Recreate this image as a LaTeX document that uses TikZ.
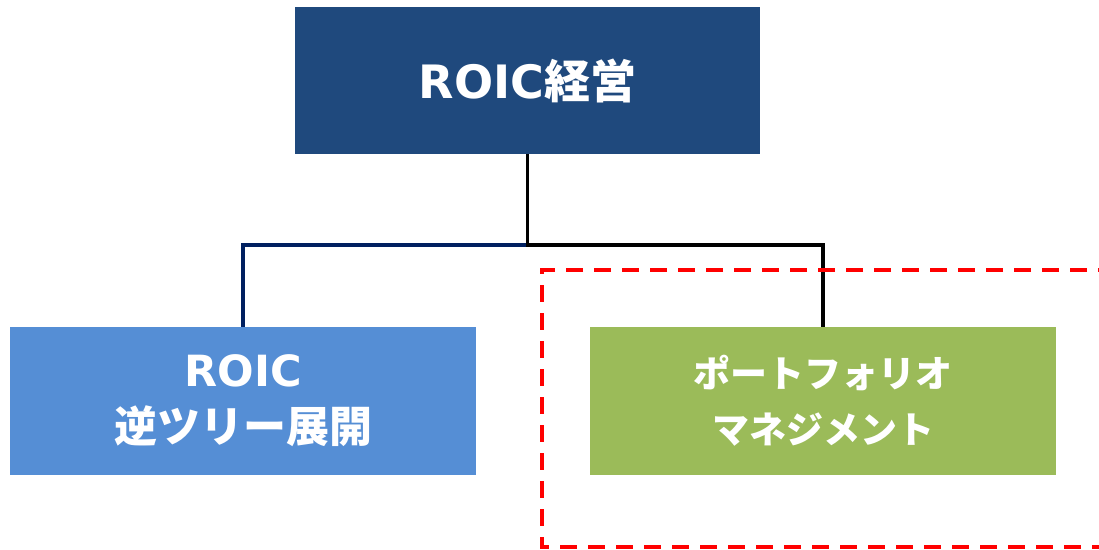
\documentclass[tikz,border=0pt]{standalone}
\usepackage{fontspec}
\newfontfamily\jp{Noto Sans CJK JP}
\newfontfamily\lat{DejaVu Sans}
\definecolor{topblue}{RGB}{31,73,125}
\definecolor{leftblue}{RGB}{85,142,213}
\definecolor{rightgreen}{RGB}{155,187,89}
\definecolor{navy}{RGB}{0,32,96}
\begin{document}
\begin{tikzpicture}[x=1pt,y=-1pt,
  box/.style={rectangle,inner sep=0pt,minimum width=466pt,minimum height=148pt,text=white,align=center},
  conn/.style={line width=3.5pt},
  frame/.style={draw=red,line width=3.5pt,dash pattern=on 17pt off 11pt}]
\useasboundingbox (0,0) rectangle (1099,549);
\fill[white] (0,0) rectangle (1099,549);
\node[box,fill=topblue,minimum width=465pt,minimum height=147pt,font=\jp\bfseries\fontsize{46}{50}\selectfont] (top) at (527.5,80.5) {{\lat\bfseries ROIC}経営};
\node[box,fill=leftblue,font=\jp\bfseries\fontsize{43}{56}\selectfont] (left) at (243,401) {{\lat\bfseries ROIC}\\逆ツリー展開};
\node[box,fill=rightgreen,font=\jp\bfseries\fontsize{37}{56}\selectfont] (right) at (823,401) {ポートフォリオ\\マネジメント};
\coordinate (j) at (top.south |- 0,245);
\draw[conn,draw=navy] (j) -| (left.north);
\draw[conn,draw=black] (top.south) -- (j) -| (right.north);
\draw[frame] (1115,270) -- (542,270) -- (542,547) -- (1115,547);
\end{tikzpicture}
\end{document}
